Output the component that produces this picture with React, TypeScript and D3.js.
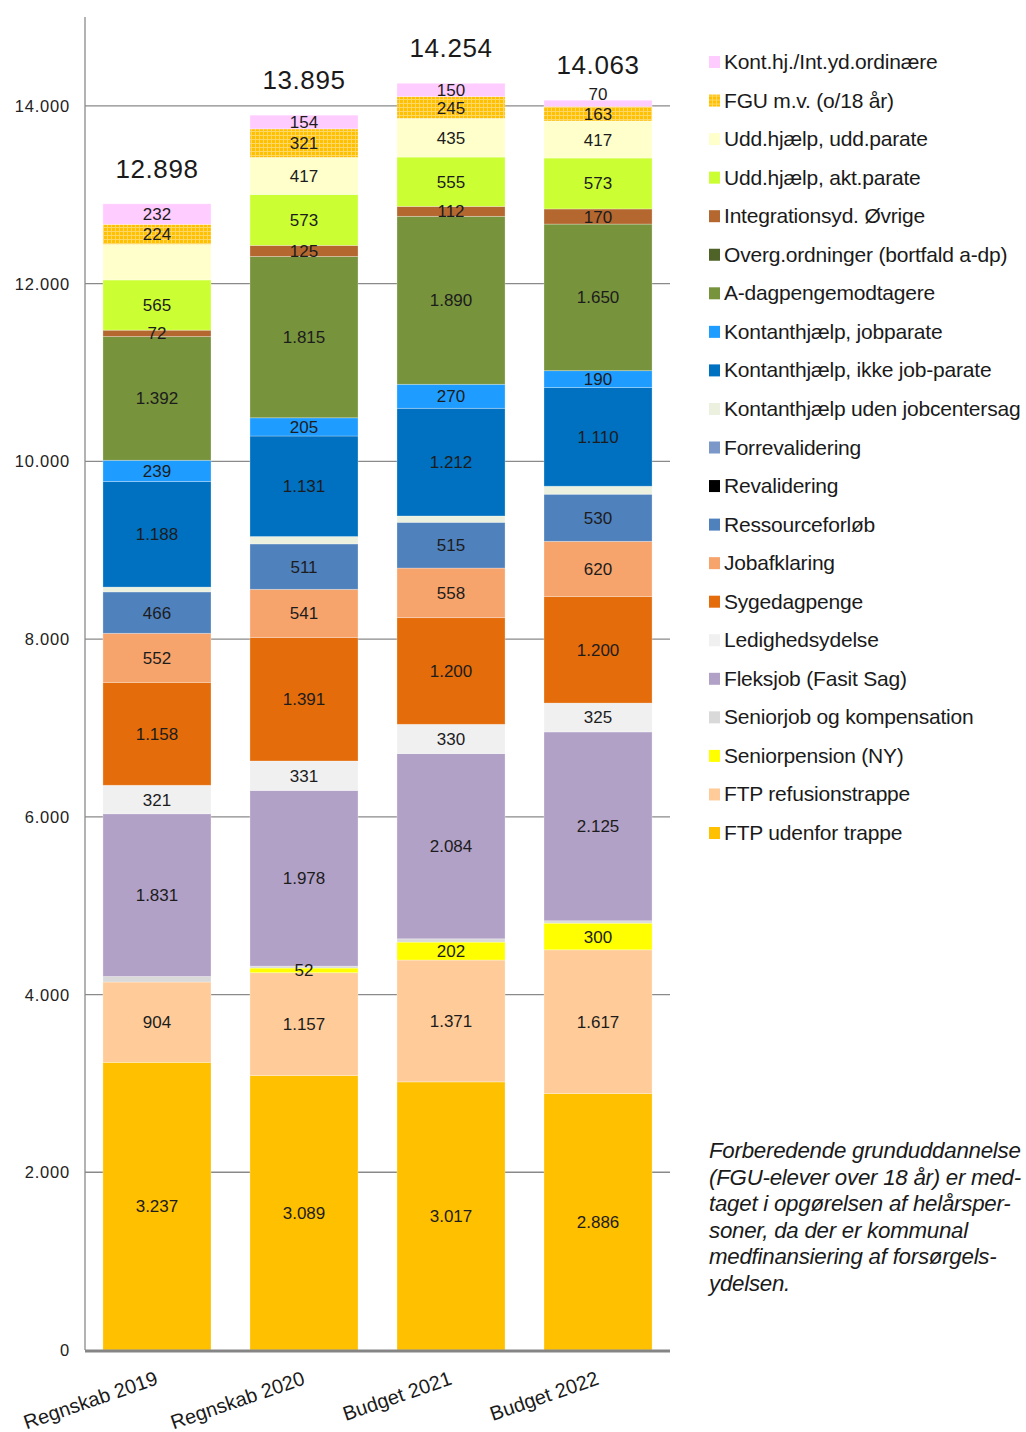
import { useEffect } from 'react'
import * as d3 from 'd3'

// categories (x axis)
const categories = ['Regnskab 2019', 'Regnskab 2020', 'Budget 2021', 'Budget 2022']

// series values, bottom of stack first
const ftpUdenfor = [3237, 3089, 3017, 2886]
const ftpRefusion = [904, 1157, 1371, 1617]
const seniorpension = [0, 52, 202, 300]
const seniorjob = [62, 21, 37, 27]
const fleksjob = [1831, 1978, 2084, 2125]
const ledighedsydelse = [321, 331, 330, 325]
const sygedagpenge = [1158, 1391, 1200, 1200]
const jobafklaring = [552, 541, 558, 620]
const ressourceforloeb = [466, 511, 515, 530]
const revalidering = [0, 0, 0, 0]
const forrevalidering = [0, 0, 0, 0]
const khUdenJobcenter = [54, 83, 71, 90]
const khIkkeJobparate = [1188, 1131, 1212, 1110]
const khJobparate = [239, 205, 270, 190]
const aDagpenge = [1392, 1815, 1890, 1650]
const overgOrdninger = [0, 0, 0, 0]
const integrationsyd = [72, 125, 112, 170]
const uddAktParate = [565, 573, 555, 573]
const uddUddParate = [401, 417, 435, 417]
const fgu = [224, 321, 245, 163]
const kontHjInt = [232, 154, 150, 70]

const seriesNames = [
  'FTP udenfor trappe',
  'FTP refusionstrappe',
  'Seniorpension (NY)',
  'Seniorjob og kompensation',
  'Fleksjob (Fasit Sag)',
  'Ledighedsydelse',
  'Sygedagpenge',
  'Jobafklaring',
  'Ressourceforløb',
  'Revalidering',
  'Forrevalidering',
  'Kontanthjælp uden jobcentersag',
  'Kontanthjælp, ikke job-parate',
  'Kontanthjælp, jobparate',
  'A-dagpengemodtagere',
  'Overg.ordninger (bortfald a-dp)',
  'Integrationsyd. Øvrige',
  'Udd.hjælp, akt.parate',
  'Udd.hjælp, udd.parate',
  'FGU m.v. (o/18 år)',
  'Kont.hj./Int.yd.ordinære',
]
const seriesValues = [
  ftpUdenfor, ftpRefusion, seniorpension, seniorjob, fleksjob, ledighedsydelse,
  sygedagpenge, jobafklaring, ressourceforloeb, revalidering, forrevalidering,
  khUdenJobcenter, khIkkeJobparate, khJobparate, aDagpenge, overgOrdninger,
  integrationsyd, uddAktParate, uddUddParate, fgu, kontHjInt,
]
const seriesColors = [
  '#ffc000', '#ffcc99', '#ffff00', '#d9d9d9', '#b2a1c7', '#f0f0f0',
  '#e46c0a', '#f7a46c', '#4f81bd', '#000000', '#7b98c9',
  '#ebf1de', '#0070c0', '#1e9cff', '#77933c', '#4f6228',
  '#b4672f', '#ccff33', '#ffffcc', 'url(#fguPattern)', '#ffccff',
]

// segments drawn without a value label
const quietSeries = ['Seniorjob og kompensation', 'Kontanthjælp uden jobcentersag']
const hiddenLabels = [['Udd.hjælp, udd.parate', 'Regnskab 2019']]

const yTicks = [0, 2000, 4000, 6000, 8000, 10000, 12000, 14000]

const footnote = [
  'Forberedende grunduddannelse',
  '(FGU-elever over 18 år) er med-',
  'taget i opgørelsen af helårsper-',
  'soner, da der er kommunal',
  'medfinansiering af forsørgels-',
  'ydelsen.',
]

const W = 1026
const H = 1432
const FONT = '"Liberation Sans", Arial, sans-serif'

const dk = d3.formatLocale({ decimal: ',', thousands: '.', grouping: [3], currency: ['', ''] })
const fmt = dk.format(',d')

export default function App() {
  useEffect(() => {
    document.body.style.margin = '0'
    document.body.style.overflow = 'hidden'
  }, [])

  const rows = categories.map((c, i) => {
    const r: Record<string, number | string> = { cat: c }
    seriesNames.forEach((s, k) => { r[s] = seriesValues[k][i] })
    return r
  })
  const stacked = d3.stack<Record<string, number | string>>().keys(seriesNames)(rows as any)
  const totals = categories.map((_, i) => d3.sum(seriesValues, (v) => v[i]))

  const x = d3.scaleBand<string>().domain(categories).range([85, 670]).paddingInner(0.265).paddingOuter(0.122)
  const y = d3.scaleLinear().domain([0, 15000]).range([1350, 17])
  const bw = x.bandwidth()
  const topKey = seriesNames[seriesNames.length - 1]

  const legendNames = seriesNames.slice().reverse()
  const legendColors = seriesColors.slice().reverse()
  const legendY = d3.scalePoint<string>().domain(legendNames).range([62, 833])

  return (
    <svg width={W} height={H} style={{ display: 'block', background: '#fff' }} fontFamily={FONT}>
      <defs>
        <pattern id="fguPattern" width="4" height="4" patternUnits="userSpaceOnUse">
          <rect width="4" height="4" fill="#ffc000" />
          <rect x="0" y="3" width="4" height="1" fill="#ffd766" />
          <rect x="3" y="0" width="1" height="4" fill="#ffd766" />
        </pattern>
      </defs>

      {/* grid */}
      {yTicks.map((t) => (
        <g key={t}>
          {t > 0 && <line x1={85} x2={670} y1={y(t)} y2={y(t)} stroke="#8a8a8a" strokeWidth={1.3} />}
          <text x={70} y={y(t) + 6} textAnchor="end" fontSize={16.5} letterSpacing={0.8} fill="#222">
            {fmt(t)}
          </text>
        </g>
      ))}
      <line x1={85} x2={85} y1={y(15000)} y2={y(0)} stroke="#8a8a8a" strokeWidth={1.3} />

      {/* bars */}
      {stacked.map((layer, k) => (
        <g key={layer.key} fill={seriesColors[k]}>
          {layer.map((d, i) => {
            const h = y(d[0]) - y(d[1])
            if (h <= 0) return null
            return (
              <rect key={i} x={x(categories[i])} y={y(d[1])} width={bw} height={h}
                stroke="#ffffff" strokeOpacity={0.35} strokeWidth={0.8} />
            )
          })}
        </g>
      ))}

      {/* segment labels */}
      {stacked.map((layer) => (
        <g key={layer.key + 'l'}>
          {layer.map((d, i) => {
            const v = d[1] - d[0]
            if (v <= 0 || quietSeries.includes(layer.key)) return null
            if (hiddenLabels.some(([s, c]) => s === layer.key && c === categories[i])) return null
            const h = y(d[0]) - y(d[1])
            // a thin top segment carries its label just above its centre
            const ly = layer.key === topKey && h < 10 ? y(d[1]) : y((d[0] + d[1]) / 2) + 6
            return (
              <text key={i} x={(x(categories[i]) ?? 0) + bw / 2} y={ly}
                textAnchor="middle" fontSize={17} fill="#1c1c1c">
                {fmt(v)}
              </text>
            )
          })}
        </g>
      ))}

      {/* totals */}
      {categories.map((c, i) => (
        <text key={c} x={(x(c) ?? 0) + bw / 2} y={y(totals[i]) - 26} textAnchor="middle"
          fontSize={26} letterSpacing={0.6} fill="#1a1a1a">
          {fmt(totals[i])}
        </text>
      ))}

      {/* x axis */}
      <line x1={85} x2={670} y1={y(0) + 1} y2={y(0) + 1} stroke="#858585" strokeWidth={3} />
      {categories.map((c) => (
        <text key={c} transform={`translate(${(x(c) ?? 0) + bw / 2 + 2},${y(0) + 34}) rotate(-19)`}
          textAnchor="end" fontSize={20} fill="#1a1a1a">
          {c}
        </text>
      ))}

      {/* legend */}
      {legendNames.map((n, k) => (
        <g key={n} transform={`translate(709,${legendY(n)})`}>
          <rect x={0} y={-6} width={11} height={12} fill={legendColors[k]} />
          <text x={15} y={7} fontSize={21} letterSpacing={-0.2} fill="#1a1a1a">{n}</text>
        </g>
      ))}

      {/* footnote */}
      {footnote.map((l, i) => (
        <text key={i} x={709} y={1158 + i * 26.6} fontSize={22.3} fontStyle="italic" letterSpacing={-0.25} fill="#1a1a1a">
          {l}
        </text>
      ))}
    </svg>
  )
}
